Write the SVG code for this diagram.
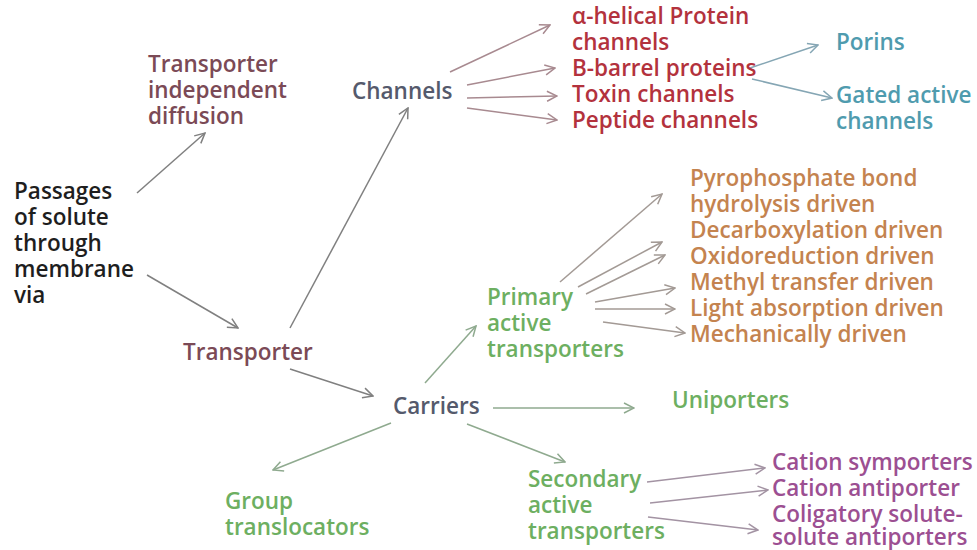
<svg xmlns="http://www.w3.org/2000/svg" width="977" height="550" viewBox="0 0 977 550">
<style>
text{font-family:"Open Sans","Liberation Sans",sans-serif;font-size:22.5px;font-weight:600}
.k{fill:#1e1e1e}.m{fill:#7b4a56}.g{fill:#555a6c}.r{fill:#b3323d}.t{fill:#4f9bae}.gr{fill:#6daf61}.o{fill:#c4834f}.p{fill:#9c4f92}
line{stroke-width:1.5;fill:none}
</style>
<defs>
<marker id="a" viewBox="0 0 12 12" refX="11" refY="6" markerWidth="12" markerHeight="12" markerUnits="userSpaceOnUse" orient="auto"><path d="M1,1 L11,6 L1,11" fill="none" stroke="context-stroke" stroke-width="1.5"/></marker>
</defs>
<rect width="977" height="550" fill="#fff"/>
<g id="connectors">
<line x1="137" y1="193" x2="205" y2="133" stroke="#808080" marker-end="url(#a)"/>
<line x1="147" y1="275" x2="238" y2="328" stroke="#808080" marker-end="url(#a)"/>
<line x1="290" y1="328" x2="408" y2="108" stroke="#808080" marker-end="url(#a)"/>
<line x1="290" y1="369" x2="373" y2="396" stroke="#808080" marker-end="url(#a)"/>
<line x1="391" y1="423" x2="273" y2="470" stroke="#8faa8f" marker-end="url(#a)"/>
<line x1="425" y1="383" x2="476" y2="326" stroke="#8faa8f" marker-end="url(#a)"/>
<line x1="493" y1="408" x2="634" y2="408" stroke="#8faa8f" marker-end="url(#a)"/>
<line x1="467" y1="424" x2="565" y2="462" stroke="#8faa8f" marker-end="url(#a)"/>
<line x1="450" y1="72" x2="550" y2="25" stroke="#a88a90" marker-end="url(#a)"/>
<line x1="467" y1="85" x2="555" y2="68" stroke="#a88a90" marker-end="url(#a)"/>
<line x1="467" y1="98" x2="557" y2="96" stroke="#a88a90" marker-end="url(#a)"/>
<line x1="467" y1="108" x2="557" y2="120" stroke="#a88a90" marker-end="url(#a)"/>
<line x1="750" y1="68" x2="818" y2="45" stroke="#85a6b4" marker-end="url(#a)"/>
<line x1="752" y1="79" x2="832" y2="98" stroke="#85a6b4" marker-end="url(#a)"/>
<line x1="560" y1="282" x2="662" y2="194" stroke="#a39a95" marker-end="url(#a)"/>
<line x1="578" y1="287" x2="662" y2="242" stroke="#a39a95" marker-end="url(#a)"/>
<line x1="586" y1="294" x2="665" y2="255" stroke="#a39a95" marker-end="url(#a)"/>
<line x1="595" y1="302" x2="675" y2="288" stroke="#a39a95" marker-end="url(#a)"/>
<line x1="595" y1="309" x2="675" y2="309" stroke="#a39a95" marker-end="url(#a)"/>
<line x1="603" y1="322" x2="685" y2="333" stroke="#a39a95" marker-end="url(#a)"/>
<line x1="647" y1="482" x2="765" y2="468" stroke="#a393a3" marker-end="url(#a)"/>
<line x1="650" y1="503" x2="768" y2="490" stroke="#a393a3" marker-end="url(#a)"/>
<line x1="648" y1="517" x2="758" y2="530" stroke="#a393a3" marker-end="url(#a)"/>
</g>
<g id="passages"><text class="k" x="14" y="199">Passages</text><text class="k" x="14" y="225">of solute</text><text class="k" x="14" y="251">through</text><text class="k" x="14" y="277">membrane</text><text class="k" x="14" y="303">via</text></g>
<g id="tid"><text class="m" x="148" y="72">Transporter</text><text class="m" x="148" y="98">independent</text><text class="m" x="148" y="124">diffusion</text></g>
<g id="transporter"><text class="m" x="183" y="360">Transporter</text></g>
<g id="channels"><text class="g" x="352" y="99">Channels</text></g>
<g id="carriers"><text class="g" x="393" y="414">Carriers</text></g>
<g id="alpha"><text class="r" x="572" y="24">α-helical Protein</text><text class="r" x="572" y="50">channels</text></g>
<g id="bbarrel"><text class="r" x="572" y="76">B-barrel proteins</text></g>
<g id="toxin"><text class="r" x="572" y="102">Toxin channels</text></g>
<g id="peptide"><text class="r" x="572" y="128">Peptide channels</text></g>
<g id="porins"><text class="t" x="836" y="50">Porins</text></g>
<g id="gated"><text class="t" x="836" y="103">Gated active</text><text class="t" x="836" y="129">channels</text></g>
<g id="primary"><text class="gr" x="487" y="305">Primary</text><text class="gr" x="487" y="331">active</text><text class="gr" x="487" y="357">transporters</text></g>
<g id="pyro"><text class="o" x="690" y="186">Pyrophosphate bond</text><text class="o" x="690" y="212">hydrolysis driven</text></g>
<g id="decarb"><text class="o" x="690" y="238">Decarboxylation driven</text></g>
<g id="oxido"><text class="o" x="690" y="264">Oxidoreduction driven</text></g>
<g id="methyl"><text class="o" x="690" y="290">Methyl transfer driven</text></g>
<g id="light"><text class="o" x="690" y="316">Light absorption driven</text></g>
<g id="mech"><text class="o" x="690" y="342">Mechanically driven</text></g>
<g id="uniporters"><text class="gr" x="672" y="408">Uniporters</text></g>
<g id="group"><text class="gr" x="225" y="509">Group</text><text class="gr" x="225" y="535">translocators</text></g>
<g id="secondary"><text class="gr" x="528" y="487">Secondary</text><text class="gr" x="528" y="513">active</text><text class="gr" x="528" y="539">transporters</text></g>
<g id="symp"><text class="p" x="772" y="470">Cation symporters</text></g>
<g id="anti"><text class="p" x="772" y="496">Cation antiporter</text></g>
<g id="colig"><text class="p" x="772" y="522">Coligatory solute-</text><text class="p" x="772" y="545">solute antiporters</text></g>
</svg>
